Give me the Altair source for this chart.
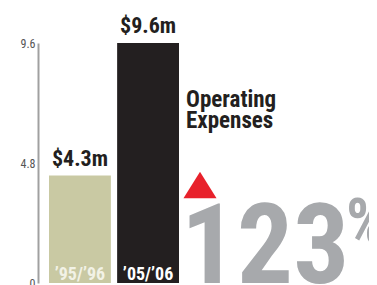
import altair as alt
import pandas as pd

periods = ["’95/’96", "’05/’06"]
expenses = [4.3, 9.6]
value_labels = ["$4.3m", "$9.6m"]
bar_colors = ["#c9c9a3", "#231f20"]
label_colors = ["#f2f2e6", "#ffffff"]
axis_ticks = [0, 4.8, 9.6]
title_lines = ["Operating", "Expenses"]
change_text = "123"
pct_sign = "%"

df = pd.DataFrame({
    "period": periods,
    "value": expenses,
    "label": value_labels,
    "color": bar_colors,
    "lcolor": label_colors,
})

FONT = "'Roboto Condensed', 'DejaVu Sans Condensed', sans-serif"

x = alt.X("period:N", sort=periods, axis=None,
          scale=alt.Scale(range=[11, 141], paddingInner=0.092, paddingOuter=0))
y = alt.Y("value:Q", scale=alt.Scale(domain=[0, 9.6], nice=False, zero=True),
          axis=alt.Axis(values=axis_ticks, title=None, grid=False, ticks=False,
                        labelFont=FONT, labelFontSize=12, labelColor="#555555",
                        labelPadding=3, domainColor="#a0a0a0", domainWidth=2,
                        labelExpr="datum.value == 0 ? '0' : format(datum.value, '.1f')"))

base = alt.Chart(df)

bars = base.mark_bar().encode(
    x=x, y=y, color=alt.Color("color:N", scale=None)
)

vals = base.mark_text(font=FONT, fontWeight="bold", fontSize=22, baseline="alphabetic",
                      dy=-10, color="#231f20").encode(
    x=x, y=y, text="label:N"
)

inbar = base.mark_text(font=FONT, fontWeight="bold", fontSize=18, baseline="alphabetic",
                       dy=-3).encode(
    x=x, y=alt.datum(0), text="period:N", color=alt.Color("lcolor:N", scale=None)
)

title = alt.Chart(pd.DataFrame({"t": [0]})).mark_text(
    text=title_lines, font=FONT, fontWeight="bold", fontSize=23, lineHeight=21,
    align="left", baseline="alphabetic", color="#231f20"
).encode(x=alt.value(148), y=alt.value(64))

tri = alt.Chart(pd.DataFrame({"t": [0]})).mark_point(
    shape="M-1,0.8L0,-0.8L1,0.8Z", filled=True, opacity=1, color="#e8212b", size=1089
).encode(x=alt.value(162), y=alt.value(142))

big = alt.Chart(pd.DataFrame({"t": [0]})).mark_text(
    text=change_text, font=FONT, fontWeight="bold", fontSize=111, align="left",
    baseline="alphabetic", color="#a7a9ac"
).encode(x=alt.value(143), y=alt.value(240))

pct = alt.Chart(pd.DataFrame({"t": [0]})).mark_text(
    text=pct_sign, font=FONT, fontWeight="bold", fontSize=64, align="left",
    baseline="alphabetic", color="#a7a9ac"
).encode(x=alt.value(308), y=alt.value(201))

chart = alt.layer(bars, vals, inbar, title, tri, big, pct).properties(
    width=331, height=240,
    autosize=alt.AutoSizeParams(type="none"),
    padding={"left": 30, "top": 35, "right": 0, "bottom": 2},
    background="white"
).configure_view(stroke=None)

chart.save("out.html", embed_options={"renderer": "svg", "actions": False})
